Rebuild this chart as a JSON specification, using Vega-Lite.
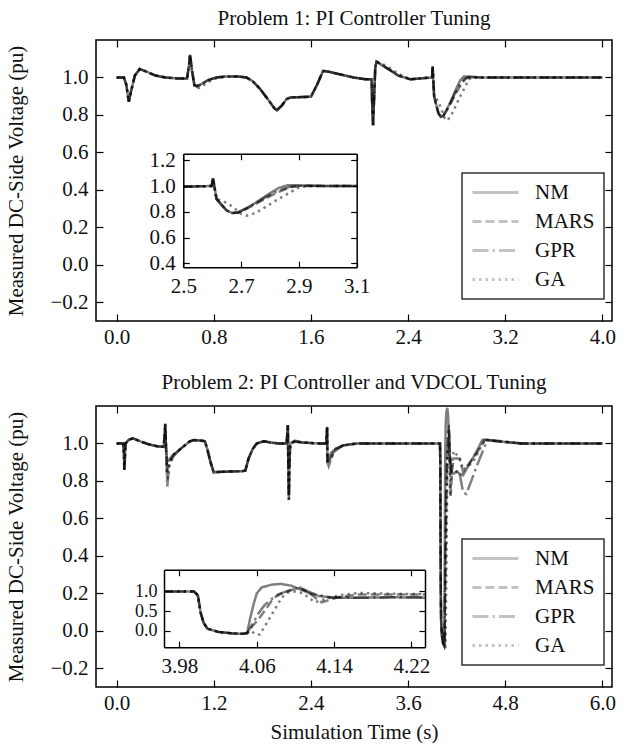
{
"$schema":"https://vega.github.io/schema/vega-lite/v6.json",
"background":"white",
"padding":{"left":5,"top":7,"right":0,"bottom":0},
"config":{
"font":"Liberation Serif",
"view":{"stroke":"black","strokeWidth":1.5},
"axis":{"labelFont":"Liberation Serif","labelFontSize":21,"labelColor":"#111","tickColor":"black","tickSize":-7,"tickWidth":1.2,"domain":false,"grid":false,"titleFont":"Liberation Serif","titleFontSize":21,"titleFontWeight":"normal","titleColor":"#111","labelPadding":12,"labelFlush":false,"labelOverlap":false},
"title":{"font":"Liberation Serif","fontSize":21,"fontWeight":"normal","color":"#111","offset":10},
"legend":{"strokeWidth":1.5}
},
"datasets":{
"p1":[
{"s":"NM","t":0,"v":1.0},{"s":"NM","t":0.06,"v":1.0},{"s":"NM","t":0.08,"v":0.96},{"s":"NM","t":0.1,"v":0.87},{"s":"NM","t":0.12,"v":0.93},{"s":"NM","t":0.15,"v":1.01},{"s":"NM","t":0.19,"v":1.045},{"s":"NM","t":0.25,"v":1.03},{"s":"NM","t":0.32,"v":1.01},{"s":"NM","t":0.4,"v":1.0},{"s":"NM","t":0.5,"v":0.995},{"s":"NM","t":0.58,"v":0.995},{"s":"NM","t":0.595,"v":1.06},{"s":"NM","t":0.605,"v":1.12},{"s":"NM","t":0.62,"v":1.04},{"s":"NM","t":0.64,"v":0.96},{"s":"NM","t":0.66,"v":0.955},{"s":"NM","t":0.7,"v":0.965},{"s":"NM","t":0.75,"v":0.985},{"s":"NM","t":0.82,"v":1.0},{"s":"NM","t":0.9,"v":1.005},{"s":"NM","t":1.0,"v":1.005},{"s":"NM","t":1.07,"v":1.0},{"s":"NM","t":1.12,"v":0.98},{"s":"NM","t":1.18,"v":0.94},{"s":"NM","t":1.25,"v":0.88},{"s":"NM","t":1.3,"v":0.835},{"s":"NM","t":1.32,"v":0.825},{"s":"NM","t":1.36,"v":0.85},{"s":"NM","t":1.4,"v":0.885},{"s":"NM","t":1.43,"v":0.893},{"s":"NM","t":1.5,"v":0.895},{"s":"NM","t":1.6,"v":0.897},{"s":"NM","t":1.65,"v":0.96},{"s":"NM","t":1.7,"v":1.035},{"s":"NM","t":1.75,"v":1.03},{"s":"NM","t":1.85,"v":1.015},{"s":"NM","t":1.95,"v":1.0},{"s":"NM","t":2.05,"v":0.99},{"s":"NM","t":2.1,"v":0.99},{"s":"NM","t":2.105,"v":0.85},{"s":"NM","t":2.112,"v":0.745},{"s":"NM","t":2.12,"v":0.88},{"s":"NM","t":2.13,"v":1.05},{"s":"NM","t":2.14,"v":1.085},{"s":"NM","t":2.2,"v":1.06},{"s":"NM","t":2.25,"v":1.04},{"s":"NM","t":2.32,"v":1.01},{"s":"NM","t":2.42,"v":0.99},{"s":"NM","t":2.5,"v":0.995},{"s":"NM","t":2.598,"v":1.0},{"s":"NM","t":2.603,"v":1.06},{"s":"NM","t":2.608,"v":0.99},{"s":"NM","t":2.615,"v":0.9},{"s":"NM","t":2.63,"v":0.86},{"s":"NM","t":2.65,"v":0.81},{"s":"NM","t":2.67,"v":0.79},{"s":"NM","t":2.69,"v":0.795},{"s":"NM","t":2.72,"v":0.83},{"s":"NM","t":2.75,"v":0.87},{"s":"NM","t":2.79,"v":0.93},{"s":"NM","t":2.83,"v":0.985},{"s":"NM","t":2.86,"v":1.005},{"s":"NM","t":2.9,"v":1.005},{"s":"NM","t":3.0,"v":1.0},{"s":"NM","t":3.1,"v":1.0},{"s":"NM","t":3.5,"v":1.0},{"s":"NM","t":4.0,"v":1.0},
{"s":"MARS","t":0,"v":1.0},{"s":"MARS","t":0.06,"v":1.0},{"s":"MARS","t":0.08,"v":0.96},{"s":"MARS","t":0.1,"v":0.87},{"s":"MARS","t":0.12,"v":0.93},{"s":"MARS","t":0.15,"v":1.01},{"s":"MARS","t":0.19,"v":1.045},{"s":"MARS","t":0.25,"v":1.03},{"s":"MARS","t":0.32,"v":1.01},{"s":"MARS","t":0.4,"v":1.0},{"s":"MARS","t":0.5,"v":0.995},{"s":"MARS","t":0.58,"v":0.995},{"s":"MARS","t":0.595,"v":1.06},{"s":"MARS","t":0.605,"v":1.12},{"s":"MARS","t":0.62,"v":1.04},{"s":"MARS","t":0.64,"v":0.96},{"s":"MARS","t":0.66,"v":0.95},{"s":"MARS","t":0.7,"v":0.965},{"s":"MARS","t":0.75,"v":0.985},{"s":"MARS","t":0.82,"v":1.0},{"s":"MARS","t":0.9,"v":1.005},{"s":"MARS","t":1.0,"v":1.005},{"s":"MARS","t":1.07,"v":1.0},{"s":"MARS","t":1.12,"v":0.98},{"s":"MARS","t":1.18,"v":0.94},{"s":"MARS","t":1.25,"v":0.88},{"s":"MARS","t":1.3,"v":0.835},{"s":"MARS","t":1.32,"v":0.825},{"s":"MARS","t":1.36,"v":0.85},{"s":"MARS","t":1.4,"v":0.885},{"s":"MARS","t":1.43,"v":0.893},{"s":"MARS","t":1.5,"v":0.895},{"s":"MARS","t":1.6,"v":0.897},{"s":"MARS","t":1.65,"v":0.96},{"s":"MARS","t":1.7,"v":1.035},{"s":"MARS","t":1.75,"v":1.03},{"s":"MARS","t":1.85,"v":1.015},{"s":"MARS","t":1.95,"v":1.0},{"s":"MARS","t":2.05,"v":0.99},{"s":"MARS","t":2.1,"v":0.99},{"s":"MARS","t":2.105,"v":0.85},{"s":"MARS","t":2.112,"v":0.745},{"s":"MARS","t":2.12,"v":0.88},{"s":"MARS","t":2.13,"v":1.05},{"s":"MARS","t":2.14,"v":1.085},{"s":"MARS","t":2.2,"v":1.06},{"s":"MARS","t":2.25,"v":1.04},{"s":"MARS","t":2.32,"v":1.01},{"s":"MARS","t":2.42,"v":0.99},{"s":"MARS","t":2.5,"v":0.995},{"s":"MARS","t":2.598,"v":1.0},{"s":"MARS","t":2.603,"v":1.06},{"s":"MARS","t":2.608,"v":0.99},{"s":"MARS","t":2.615,"v":0.9},{"s":"MARS","t":2.63,"v":0.86},{"s":"MARS","t":2.65,"v":0.81},{"s":"MARS","t":2.67,"v":0.79},{"s":"MARS","t":2.69,"v":0.795},{"s":"MARS","t":2.72,"v":0.825},{"s":"MARS","t":2.75,"v":0.86},{"s":"MARS","t":2.79,"v":0.91},{"s":"MARS","t":2.83,"v":0.955},{"s":"MARS","t":2.87,"v":0.99},{"s":"MARS","t":2.9,"v":1.0},{"s":"MARS","t":3.0,"v":1.0},{"s":"MARS","t":3.1,"v":1.0},{"s":"MARS","t":3.5,"v":1.0},{"s":"MARS","t":4.0,"v":1.0},
{"s":"GPR","t":0,"v":1.0},{"s":"GPR","t":0.06,"v":1.0},{"s":"GPR","t":0.08,"v":0.96},{"s":"GPR","t":0.1,"v":0.87},{"s":"GPR","t":0.12,"v":0.93},{"s":"GPR","t":0.15,"v":1.01},{"s":"GPR","t":0.19,"v":1.045},{"s":"GPR","t":0.25,"v":1.03},{"s":"GPR","t":0.32,"v":1.01},{"s":"GPR","t":0.4,"v":1.0},{"s":"GPR","t":0.5,"v":0.995},{"s":"GPR","t":0.58,"v":0.995},{"s":"GPR","t":0.595,"v":1.06},{"s":"GPR","t":0.605,"v":1.12},{"s":"GPR","t":0.62,"v":1.04},{"s":"GPR","t":0.64,"v":0.96},{"s":"GPR","t":0.66,"v":0.955},{"s":"GPR","t":0.7,"v":0.965},{"s":"GPR","t":0.75,"v":0.985},{"s":"GPR","t":0.82,"v":1.0},{"s":"GPR","t":0.9,"v":1.005},{"s":"GPR","t":1.0,"v":1.005},{"s":"GPR","t":1.07,"v":1.0},{"s":"GPR","t":1.12,"v":0.98},{"s":"GPR","t":1.18,"v":0.94},{"s":"GPR","t":1.25,"v":0.88},{"s":"GPR","t":1.3,"v":0.835},{"s":"GPR","t":1.32,"v":0.825},{"s":"GPR","t":1.36,"v":0.85},{"s":"GPR","t":1.4,"v":0.885},{"s":"GPR","t":1.43,"v":0.893},{"s":"GPR","t":1.5,"v":0.895},{"s":"GPR","t":1.6,"v":0.897},{"s":"GPR","t":1.65,"v":0.96},{"s":"GPR","t":1.7,"v":1.035},{"s":"GPR","t":1.75,"v":1.03},{"s":"GPR","t":1.85,"v":1.015},{"s":"GPR","t":1.95,"v":1.0},{"s":"GPR","t":2.05,"v":0.99},{"s":"GPR","t":2.1,"v":0.99},{"s":"GPR","t":2.105,"v":0.85},{"s":"GPR","t":2.112,"v":0.745},{"s":"GPR","t":2.12,"v":0.88},{"s":"GPR","t":2.13,"v":1.05},{"s":"GPR","t":2.14,"v":1.085},{"s":"GPR","t":2.2,"v":1.06},{"s":"GPR","t":2.25,"v":1.04},{"s":"GPR","t":2.32,"v":1.01},{"s":"GPR","t":2.42,"v":0.99},{"s":"GPR","t":2.5,"v":0.995},{"s":"GPR","t":2.598,"v":1.0},{"s":"GPR","t":2.603,"v":1.06},{"s":"GPR","t":2.608,"v":0.99},{"s":"GPR","t":2.615,"v":0.9},{"s":"GPR","t":2.63,"v":0.86},{"s":"GPR","t":2.65,"v":0.81},{"s":"GPR","t":2.67,"v":0.79},{"s":"GPR","t":2.69,"v":0.795},{"s":"GPR","t":2.72,"v":0.828},{"s":"GPR","t":2.75,"v":0.865},{"s":"GPR","t":2.79,"v":0.92},{"s":"GPR","t":2.83,"v":0.965},{"s":"GPR","t":2.87,"v":0.995},{"s":"GPR","t":2.9,"v":1.003},{"s":"GPR","t":3.0,"v":1.0},{"s":"GPR","t":3.1,"v":1.0},{"s":"GPR","t":3.5,"v":1.0},{"s":"GPR","t":4.0,"v":1.0},
{"s":"GA","t":0,"v":1.0},{"s":"GA","t":0.06,"v":1.0},{"s":"GA","t":0.08,"v":0.96},{"s":"GA","t":0.1,"v":0.87},{"s":"GA","t":0.12,"v":0.93},{"s":"GA","t":0.15,"v":1.01},{"s":"GA","t":0.19,"v":1.045},{"s":"GA","t":0.25,"v":1.03},{"s":"GA","t":0.32,"v":1.01},{"s":"GA","t":0.4,"v":1.0},{"s":"GA","t":0.5,"v":0.995},{"s":"GA","t":0.58,"v":0.995},{"s":"GA","t":0.595,"v":1.06},{"s":"GA","t":0.605,"v":1.12},{"s":"GA","t":0.62,"v":1.04},{"s":"GA","t":0.64,"v":0.955},{"s":"GA","t":0.66,"v":0.94},{"s":"GA","t":0.7,"v":0.95},{"s":"GA","t":0.75,"v":0.975},{"s":"GA","t":0.82,"v":0.995},{"s":"GA","t":0.9,"v":1.005},{"s":"GA","t":1.0,"v":1.005},{"s":"GA","t":1.07,"v":1.0},{"s":"GA","t":1.12,"v":0.98},{"s":"GA","t":1.18,"v":0.94},{"s":"GA","t":1.25,"v":0.88},{"s":"GA","t":1.3,"v":0.835},{"s":"GA","t":1.32,"v":0.825},{"s":"GA","t":1.36,"v":0.85},{"s":"GA","t":1.4,"v":0.885},{"s":"GA","t":1.43,"v":0.893},{"s":"GA","t":1.5,"v":0.895},{"s":"GA","t":1.6,"v":0.897},{"s":"GA","t":1.65,"v":0.96},{"s":"GA","t":1.7,"v":1.035},{"s":"GA","t":1.75,"v":1.03},{"s":"GA","t":1.85,"v":1.015},{"s":"GA","t":1.95,"v":1.0},{"s":"GA","t":2.05,"v":0.99},{"s":"GA","t":2.1,"v":0.99},{"s":"GA","t":2.105,"v":0.85},{"s":"GA","t":2.112,"v":0.745},{"s":"GA","t":2.12,"v":0.88},{"s":"GA","t":2.13,"v":1.05},{"s":"GA","t":2.14,"v":1.085},{"s":"GA","t":2.2,"v":1.068},{"s":"GA","t":2.25,"v":1.05},{"s":"GA","t":2.32,"v":1.02},{"s":"GA","t":2.42,"v":0.99},{"s":"GA","t":2.5,"v":0.995},{"s":"GA","t":2.598,"v":1.0},{"s":"GA","t":2.603,"v":1.06},{"s":"GA","t":2.608,"v":0.99},{"s":"GA","t":2.615,"v":0.9},{"s":"GA","t":2.64,"v":0.88},{"s":"GA","t":2.67,"v":0.84},{"s":"GA","t":2.7,"v":0.785},{"s":"GA","t":2.72,"v":0.77},{"s":"GA","t":2.75,"v":0.79},{"s":"GA","t":2.79,"v":0.845},{"s":"GA","t":2.83,"v":0.9},{"s":"GA","t":2.87,"v":0.95},{"s":"GA","t":2.9,"v":0.99},{"s":"GA","t":2.93,"v":1.0},{"s":"GA","t":3.0,"v":1.0},{"s":"GA","t":3.1,"v":1.0},{"s":"GA","t":3.5,"v":1.0},{"s":"GA","t":4.0,"v":1.0}
],
"p2":[
{"s":"NM","t":0,"v":1.0},{"s":"NM","t":0.08,"v":1.0},{"s":"NM","t":0.09,"v":0.95},{"s":"NM","t":0.095,"v":0.86},{"s":"NM","t":0.1,"v":0.9},{"s":"NM","t":0.11,"v":1.0},{"s":"NM","t":0.15,"v":1.02},{"s":"NM","t":0.2,"v":1.027},{"s":"NM","t":0.3,"v":1.01},{"s":"NM","t":0.4,"v":0.995},{"s":"NM","t":0.5,"v":0.985},{"s":"NM","t":0.58,"v":0.982},{"s":"NM","t":0.595,"v":1.05},{"s":"NM","t":0.6,"v":1.105},{"s":"NM","t":0.61,"v":0.98},{"s":"NM","t":0.625,"v":0.9},{"s":"NM","t":0.65,"v":0.915},{"s":"NM","t":0.7,"v":0.94},{"s":"NM","t":0.8,"v":0.975},{"s":"NM","t":0.9,"v":1.01},{"s":"NM","t":0.95,"v":1.018},{"s":"NM","t":1.05,"v":1.015},{"s":"NM","t":1.09,"v":1.012},{"s":"NM","t":1.12,"v":0.97},{"s":"NM","t":1.16,"v":0.9},{"s":"NM","t":1.2,"v":0.845},{"s":"NM","t":1.25,"v":0.848},{"s":"NM","t":1.4,"v":0.85},{"s":"NM","t":1.55,"v":0.852},{"s":"NM","t":1.59,"v":0.855},{"s":"NM","t":1.63,"v":0.92},{"s":"NM","t":1.68,"v":0.97},{"s":"NM","t":1.73,"v":1.0},{"s":"NM","t":1.82,"v":1.012},{"s":"NM","t":1.9,"v":1.005},{"s":"NM","t":2.0,"v":1.0},{"s":"NM","t":2.1,"v":1.0},{"s":"NM","t":2.115,"v":1.098},{"s":"NM","t":2.122,"v":0.85},{"s":"NM","t":2.128,"v":0.7},{"s":"NM","t":2.135,"v":0.9},{"s":"NM","t":2.145,"v":1.0},{"s":"NM","t":2.2,"v":1.01},{"s":"NM","t":2.3,"v":1.005},{"s":"NM","t":2.5,"v":1.0},{"s":"NM","t":2.59,"v":1.0},{"s":"NM","t":2.6,"v":1.089},{"s":"NM","t":2.605,"v":0.9},{"s":"NM","t":2.62,"v":0.92},{"s":"NM","t":2.65,"v":0.95},{"s":"NM","t":2.7,"v":0.97},{"s":"NM","t":2.8,"v":0.99},{"s":"NM","t":2.97,"v":1.0},{"s":"NM","t":3.5,"v":1.0},{"s":"NM","t":3.964,"v":1.0},{"s":"NM","t":3.995,"v":1.0},{"s":"NM","t":3.999,"v":0.9},{"s":"NM","t":4.002,"v":0.45},{"s":"NM","t":4.005,"v":0.2},{"s":"NM","t":4.009,"v":0.05},{"s":"NM","t":4.02,"v":-0.03},{"s":"NM","t":4.035,"v":-0.07},{"s":"NM","t":4.046,"v":-0.08},{"s":"NM","t":4.05,"v":-0.06},{"s":"NM","t":4.053,"v":0.3},{"s":"NM","t":4.057,"v":0.7},{"s":"NM","t":4.06,"v":0.95},{"s":"NM","t":4.065,"v":1.1},{"s":"NM","t":4.075,"v":1.17},{"s":"NM","t":4.085,"v":1.19},{"s":"NM","t":4.095,"v":1.15},{"s":"NM","t":4.105,"v":1.05},{"s":"NM","t":4.115,"v":0.95},{"s":"NM","t":4.125,"v":0.88},{"s":"NM","t":4.14,"v":0.84},{"s":"NM","t":4.17,"v":0.84},{"s":"NM","t":4.2,"v":0.85},{"s":"NM","t":4.234,"v":0.84},{"s":"NM","t":4.28,"v":0.83},{"s":"NM","t":4.45,"v":0.96},{"s":"NM","t":4.52,"v":1.02},{"s":"NM","t":4.7,"v":1.012},{"s":"NM","t":5.0,"v":1.0},{"s":"NM","t":6.0,"v":1.0},
{"s":"MARS","t":0,"v":1.0},{"s":"MARS","t":0.08,"v":1.0},{"s":"MARS","t":0.09,"v":0.95},{"s":"MARS","t":0.095,"v":0.86},{"s":"MARS","t":0.1,"v":0.9},{"s":"MARS","t":0.11,"v":1.0},{"s":"MARS","t":0.15,"v":1.02},{"s":"MARS","t":0.2,"v":1.027},{"s":"MARS","t":0.3,"v":1.01},{"s":"MARS","t":0.4,"v":0.995},{"s":"MARS","t":0.5,"v":0.985},{"s":"MARS","t":0.58,"v":0.982},{"s":"MARS","t":0.595,"v":1.05},{"s":"MARS","t":0.6,"v":1.105},{"s":"MARS","t":0.61,"v":0.98},{"s":"MARS","t":0.625,"v":0.85},{"s":"MARS","t":0.65,"v":0.9},{"s":"MARS","t":0.7,"v":0.94},{"s":"MARS","t":0.8,"v":0.975},{"s":"MARS","t":0.9,"v":1.01},{"s":"MARS","t":0.95,"v":1.018},{"s":"MARS","t":1.05,"v":1.015},{"s":"MARS","t":1.09,"v":1.012},{"s":"MARS","t":1.12,"v":0.97},{"s":"MARS","t":1.16,"v":0.9},{"s":"MARS","t":1.2,"v":0.845},{"s":"MARS","t":1.25,"v":0.848},{"s":"MARS","t":1.4,"v":0.85},{"s":"MARS","t":1.55,"v":0.852},{"s":"MARS","t":1.59,"v":0.855},{"s":"MARS","t":1.63,"v":0.92},{"s":"MARS","t":1.68,"v":0.97},{"s":"MARS","t":1.73,"v":1.0},{"s":"MARS","t":1.82,"v":1.012},{"s":"MARS","t":1.9,"v":1.005},{"s":"MARS","t":2.0,"v":1.0},{"s":"MARS","t":2.1,"v":1.0},{"s":"MARS","t":2.115,"v":1.098},{"s":"MARS","t":2.122,"v":0.85},{"s":"MARS","t":2.128,"v":0.72},{"s":"MARS","t":2.135,"v":0.9},{"s":"MARS","t":2.145,"v":1.0},{"s":"MARS","t":2.2,"v":1.015},{"s":"MARS","t":2.3,"v":1.005},{"s":"MARS","t":2.5,"v":1.0},{"s":"MARS","t":2.59,"v":1.0},{"s":"MARS","t":2.6,"v":1.089},{"s":"MARS","t":2.605,"v":0.9},{"s":"MARS","t":2.62,"v":0.9},{"s":"MARS","t":2.65,"v":0.93},{"s":"MARS","t":2.7,"v":0.97},{"s":"MARS","t":2.8,"v":0.99},{"s":"MARS","t":2.97,"v":1.0},{"s":"MARS","t":3.5,"v":1.0},{"s":"MARS","t":3.964,"v":1.0},{"s":"MARS","t":3.995,"v":1.0},{"s":"MARS","t":3.999,"v":0.9},{"s":"MARS","t":4.002,"v":0.45},{"s":"MARS","t":4.005,"v":0.2},{"s":"MARS","t":4.009,"v":0.05},{"s":"MARS","t":4.02,"v":-0.03},{"s":"MARS","t":4.035,"v":-0.07},{"s":"MARS","t":4.046,"v":-0.08},{"s":"MARS","t":4.05,"v":-0.06},{"s":"MARS","t":4.055,"v":0.1},{"s":"MARS","t":4.062,"v":0.3},{"s":"MARS","t":4.068,"v":0.5},{"s":"MARS","t":4.075,"v":0.75},{"s":"MARS","t":4.082,"v":0.92},{"s":"MARS","t":4.09,"v":0.98},{"s":"MARS","t":4.098,"v":1.05},{"s":"MARS","t":4.105,"v":1.1},{"s":"MARS","t":4.112,"v":1.0},{"s":"MARS","t":4.12,"v":0.85},{"s":"MARS","t":4.127,"v":0.72},{"s":"MARS","t":4.135,"v":0.78},{"s":"MARS","t":4.145,"v":0.86},{"s":"MARS","t":4.165,"v":0.92},{"s":"MARS","t":4.2,"v":0.92},{"s":"MARS","t":4.234,"v":0.92},{"s":"MARS","t":4.28,"v":0.85},{"s":"MARS","t":4.45,"v":0.95},{"s":"MARS","t":4.55,"v":1.02},{"s":"MARS","t":4.7,"v":1.012},{"s":"MARS","t":5.0,"v":1.0},{"s":"MARS","t":6.0,"v":1.0},
{"s":"GPR","t":0,"v":1.0},{"s":"GPR","t":0.08,"v":1.0},{"s":"GPR","t":0.09,"v":0.95},{"s":"GPR","t":0.095,"v":0.86},{"s":"GPR","t":0.1,"v":0.9},{"s":"GPR","t":0.11,"v":1.0},{"s":"GPR","t":0.15,"v":1.02},{"s":"GPR","t":0.2,"v":1.027},{"s":"GPR","t":0.3,"v":1.01},{"s":"GPR","t":0.4,"v":0.995},{"s":"GPR","t":0.5,"v":0.985},{"s":"GPR","t":0.58,"v":0.982},{"s":"GPR","t":0.595,"v":1.05},{"s":"GPR","t":0.6,"v":1.105},{"s":"GPR","t":0.61,"v":0.98},{"s":"GPR","t":0.625,"v":0.77},{"s":"GPR","t":0.65,"v":0.88},{"s":"GPR","t":0.7,"v":0.93},{"s":"GPR","t":0.8,"v":0.975},{"s":"GPR","t":0.9,"v":1.01},{"s":"GPR","t":0.95,"v":1.018},{"s":"GPR","t":1.05,"v":1.015},{"s":"GPR","t":1.09,"v":1.012},{"s":"GPR","t":1.12,"v":0.97},{"s":"GPR","t":1.16,"v":0.9},{"s":"GPR","t":1.2,"v":0.845},{"s":"GPR","t":1.25,"v":0.848},{"s":"GPR","t":1.4,"v":0.85},{"s":"GPR","t":1.55,"v":0.852},{"s":"GPR","t":1.59,"v":0.855},{"s":"GPR","t":1.63,"v":0.92},{"s":"GPR","t":1.68,"v":0.97},{"s":"GPR","t":1.73,"v":1.0},{"s":"GPR","t":1.82,"v":1.012},{"s":"GPR","t":1.9,"v":1.005},{"s":"GPR","t":2.0,"v":1.0},{"s":"GPR","t":2.1,"v":1.0},{"s":"GPR","t":2.115,"v":1.098},{"s":"GPR","t":2.122,"v":0.85},{"s":"GPR","t":2.128,"v":0.7},{"s":"GPR","t":2.135,"v":0.9},{"s":"GPR","t":2.145,"v":1.0},{"s":"GPR","t":2.2,"v":1.01},{"s":"GPR","t":2.3,"v":1.005},{"s":"GPR","t":2.5,"v":1.0},{"s":"GPR","t":2.59,"v":1.0},{"s":"GPR","t":2.6,"v":1.089},{"s":"GPR","t":2.605,"v":0.9},{"s":"GPR","t":2.62,"v":0.88},{"s":"GPR","t":2.65,"v":0.92},{"s":"GPR","t":2.7,"v":0.96},{"s":"GPR","t":2.8,"v":0.99},{"s":"GPR","t":2.97,"v":1.0},{"s":"GPR","t":3.5,"v":1.0},{"s":"GPR","t":3.964,"v":1.0},{"s":"GPR","t":3.995,"v":1.0},{"s":"GPR","t":3.999,"v":0.9},{"s":"GPR","t":4.002,"v":0.45},{"s":"GPR","t":4.005,"v":0.2},{"s":"GPR","t":4.009,"v":0.05},{"s":"GPR","t":4.02,"v":-0.03},{"s":"GPR","t":4.035,"v":-0.07},{"s":"GPR","t":4.046,"v":-0.08},{"s":"GPR","t":4.05,"v":-0.06},{"s":"GPR","t":4.055,"v":0.15},{"s":"GPR","t":4.062,"v":0.45},{"s":"GPR","t":4.068,"v":0.65},{"s":"GPR","t":4.075,"v":0.8},{"s":"GPR","t":4.085,"v":0.95},{"s":"GPR","t":4.095,"v":1.04},{"s":"GPR","t":4.102,"v":1.08},{"s":"GPR","t":4.11,"v":1.03},{"s":"GPR","t":4.12,"v":0.93},{"s":"GPR","t":4.135,"v":0.85},{"s":"GPR","t":4.16,"v":0.84},{"s":"GPR","t":4.2,"v":0.85},{"s":"GPR","t":4.234,"v":0.85},{"s":"GPR","t":4.28,"v":0.74},{"s":"GPR","t":4.32,"v":0.73},{"s":"GPR","t":4.45,"v":0.88},{"s":"GPR","t":4.58,"v":1.02},{"s":"GPR","t":4.7,"v":1.015},{"s":"GPR","t":5.0,"v":1.0},{"s":"GPR","t":6.0,"v":1.0},
{"s":"GA","t":0,"v":1.0},{"s":"GA","t":0.08,"v":1.0},{"s":"GA","t":0.09,"v":0.95},{"s":"GA","t":0.095,"v":0.86},{"s":"GA","t":0.1,"v":0.9},{"s":"GA","t":0.11,"v":1.0},{"s":"GA","t":0.15,"v":1.02},{"s":"GA","t":0.2,"v":1.027},{"s":"GA","t":0.3,"v":1.01},{"s":"GA","t":0.4,"v":0.995},{"s":"GA","t":0.5,"v":0.985},{"s":"GA","t":0.58,"v":0.982},{"s":"GA","t":0.595,"v":1.05},{"s":"GA","t":0.6,"v":1.105},{"s":"GA","t":0.61,"v":0.98},{"s":"GA","t":0.625,"v":0.8},{"s":"GA","t":0.65,"v":0.89},{"s":"GA","t":0.7,"v":0.94},{"s":"GA","t":0.8,"v":0.975},{"s":"GA","t":0.9,"v":1.01},{"s":"GA","t":0.95,"v":1.018},{"s":"GA","t":1.05,"v":1.015},{"s":"GA","t":1.09,"v":1.012},{"s":"GA","t":1.12,"v":0.97},{"s":"GA","t":1.16,"v":0.9},{"s":"GA","t":1.2,"v":0.845},{"s":"GA","t":1.25,"v":0.848},{"s":"GA","t":1.4,"v":0.85},{"s":"GA","t":1.55,"v":0.852},{"s":"GA","t":1.59,"v":0.855},{"s":"GA","t":1.63,"v":0.92},{"s":"GA","t":1.68,"v":0.97},{"s":"GA","t":1.73,"v":1.0},{"s":"GA","t":1.82,"v":1.012},{"s":"GA","t":1.9,"v":1.005},{"s":"GA","t":2.0,"v":1.0},{"s":"GA","t":2.1,"v":1.0},{"s":"GA","t":2.115,"v":1.098},{"s":"GA","t":2.122,"v":0.85},{"s":"GA","t":2.128,"v":0.7},{"s":"GA","t":2.135,"v":0.9},{"s":"GA","t":2.145,"v":1.0},{"s":"GA","t":2.2,"v":1.01},{"s":"GA","t":2.3,"v":1.005},{"s":"GA","t":2.5,"v":1.0},{"s":"GA","t":2.59,"v":1.0},{"s":"GA","t":2.6,"v":1.089},{"s":"GA","t":2.605,"v":0.9},{"s":"GA","t":2.62,"v":0.89},{"s":"GA","t":2.65,"v":0.92},{"s":"GA","t":2.7,"v":0.97},{"s":"GA","t":2.8,"v":0.99},{"s":"GA","t":2.97,"v":1.0},{"s":"GA","t":3.5,"v":1.0},{"s":"GA","t":3.964,"v":1.0},{"s":"GA","t":3.995,"v":1.0},{"s":"GA","t":3.999,"v":0.9},{"s":"GA","t":4.002,"v":0.45},{"s":"GA","t":4.005,"v":0.2},{"s":"GA","t":4.009,"v":0.05},{"s":"GA","t":4.02,"v":-0.03},{"s":"GA","t":4.035,"v":-0.07},{"s":"GA","t":4.046,"v":-0.08},{"s":"GA","t":4.05,"v":-0.06},{"s":"GA","t":4.054,"v":0.0},{"s":"GA","t":4.058,"v":-0.08},{"s":"GA","t":4.063,"v":-0.1},{"s":"GA","t":4.068,"v":0.1},{"s":"GA","t":4.074,"v":0.35},{"s":"GA","t":4.08,"v":0.6},{"s":"GA","t":4.086,"v":0.85},{"s":"GA","t":4.092,"v":0.97},{"s":"GA","t":4.1,"v":1.0},{"s":"GA","t":4.108,"v":0.95},{"s":"GA","t":4.115,"v":0.82},{"s":"GA","t":4.12,"v":0.72},{"s":"GA","t":4.13,"v":0.8},{"s":"GA","t":4.145,"v":0.9},{"s":"GA","t":4.165,"v":0.96},{"s":"GA","t":4.2,"v":0.94},{"s":"GA","t":4.234,"v":0.93},{"s":"GA","t":4.28,"v":0.86},{"s":"GA","t":4.4,"v":0.9},{"s":"GA","t":4.55,"v":1.02},{"s":"GA","t":4.7,"v":1.012},{"s":"GA","t":5.0,"v":1.0},{"s":"GA","t":6.0,"v":1.0}
]
},
"spacing":23,
"resolve":{"scale":{"strokeDash":"independent"}},
"vconcat":[
{
"title":{"text":"Problem 1: PI Controller Tuning"},
"width":516,"height":281,
"resolve":{"scale":{"x":"independent","y":"independent","strokeDash":"independent"},"axis":{"x":"independent","y":"independent"}},
"layer":[
{"data":{"name":"p1"},
"mark":{"type":"line","stroke":"black","opacity":0.5,"strokeWidth":2.5},
"encoding":{
"x":{"field":"t","type":"quantitative","scale":{"domain":[-0.17,4.08],"nice":false,"zero":false},"axis":{"orient":"bottom","values":[0,0.8,1.6,2.4,3.2,4.0],"format":".1f","title":null}},
"y":{"field":"v","type":"quantitative","scale":{"domain":[-0.3,1.2],"nice":false,"zero":false},"axis":{"orient":"left","values":[-0.2,0,0.2,0.4,0.6,0.8,1.0],"format":".1f","title":"Measured DC-Side Voltage (pu)","titlePadding":23,"labelPadding":15}},
"strokeDash":{"field":"s","type":"nominal","scale":{"domain":["NM","MARS","GPR","GA"],"range":[[1,0],[9,4],[16,4,2.5,4],[2.5,4]]},
"legend":{"title":null,"orient":"none","legendX":366,"legendY":133,"symbolType":"stroke","symbolSize":2116,"symbolStrokeWidth":3,"symbolStrokeColor":"#888","labelFont":"Liberation Serif","labelFontSize":21,"labelColor":"#111","clipHeight":21,"rowPadding":7,"padding":9,"strokeColor":"#333","labelOffset":15}}
}},
{"data":{"name":"p1"},
"mark":{"type":"line","opacity":0},
"encoding":{
"x":{"field":"t","type":"quantitative","scale":{"domain":[-0.17,4.08],"nice":false,"zero":false},"axis":{"orient":"top","values":[0,0.8,1.6,2.4,3.2,4.0],"labels":false,"title":null}},
"y":{"field":"v","type":"quantitative","scale":{"domain":[-0.3,1.2],"nice":false,"zero":false},"axis":{"orient":"right","values":[-0.2,0,0.2,0.4,0.6,0.8,1.0],"labels":false,"title":null}},
"detail":{"field":"s"}
}},
{"data":{"name":"p1"},
"transform":[{"filter":"datum.t >= 2.5 && datum.t <= 3.1"}],
"mark":{"type":"line","stroke":"black","opacity":0.5,"strokeWidth":2.5},
"encoding":{
"x":{"field":"t","type":"quantitative","scale":{"domain":[2.5,3.1],"range":[87.3,260.7],"nice":false,"zero":false},"axis":{"orient":"bottom","offset":-53.8,"values":[2.5,2.7,2.9,3.1],"format":".1f","title":null,"domain":true,"domainColor":"black","domainWidth":1.5,"tickSize":-6,"labelPadding":14}},
"y":{"field":"v","type":"quantitative","scale":{"domain":[0.37,1.25],"range":[227.2,113.8],"nice":false,"zero":false},"axis":{"orient":"left","offset":-87.3,"values":[0.4,0.6,0.8,1.0,1.2],"format":".1f","title":null,"domain":true,"domainColor":"black","domainWidth":1.5,"tickSize":-6,"labelPadding":14}},
"strokeDash":{"field":"s","type":"nominal","scale":{"domain":["NM","MARS","GPR","GA"],"range":[[1,0],[9,4],[16,4,2.5,4],[2.5,4]]},"legend":null}
}},
{"data":{"name":"p1"},
"transform":[{"filter":"datum.t >= 2.5 && datum.t <= 3.1"}],
"mark":{"type":"line","opacity":0},
"encoding":{
"x":{"field":"t","type":"quantitative","scale":{"domain":[2.5,3.1],"range":[87.3,260.7],"nice":false,"zero":false},"axis":{"orient":"top","offset":-113.8,"values":[2.5,2.7,2.9,3.1],"labels":false,"title":null,"domain":true,"domainColor":"black","domainWidth":1.5,"tickSize":-6}},
"y":{"field":"v","type":"quantitative","scale":{"domain":[0.37,1.25],"range":[227.2,113.8],"nice":false,"zero":false},"axis":{"orient":"right","offset":-255.3,"values":[0.4,0.6,0.8,1.0,1.2],"labels":false,"title":null,"domain":true,"domainColor":"black","domainWidth":1.5,"tickSize":-6}},
"detail":{"field":"s"}
}}
]
},
{
"title":{"text":"Problem 2: PI Controller and VDCOL Tuning"},
"width":516,"height":281,
"resolve":{"scale":{"x":"independent","y":"independent","strokeDash":"independent"},"axis":{"x":"independent","y":"independent"}},
"layer":[
{"data":{"name":"p2"},
"mark":{"type":"line","stroke":"black","opacity":0.5,"strokeWidth":2.5},
"encoding":{
"x":{"field":"t","type":"quantitative","scale":{"domain":[-0.255,6.12],"nice":false,"zero":false},"axis":{"orient":"bottom","values":[0,1.2,2.4,3.6,4.8,6.0],"format":".1f","title":"Simulation Time (s)","titlePadding":8}},
"y":{"field":"v","type":"quantitative","scale":{"domain":[-0.3,1.2],"nice":false,"zero":false},"axis":{"orient":"left","values":[-0.2,0,0.2,0.4,0.6,0.8,1.0],"format":".1f","title":"Measured DC-Side Voltage (pu)","titlePadding":23,"labelPadding":15}},
"strokeDash":{"field":"s","type":"nominal","scale":{"domain":["NM","MARS","GPR","GA"],"range":[[1,0],[9,4],[16,4,2.5,4],[2.5,4]]},
"legend":{"title":null,"orient":"none","legendX":366,"legendY":133,"symbolType":"stroke","symbolSize":2116,"symbolStrokeWidth":3,"symbolStrokeColor":"#888","labelFont":"Liberation Serif","labelFontSize":21,"labelColor":"#111","clipHeight":21,"rowPadding":7,"padding":9,"strokeColor":"#333","labelOffset":15}}
}},
{"data":{"name":"p2"},
"mark":{"type":"line","opacity":0},
"encoding":{
"x":{"field":"t","type":"quantitative","scale":{"domain":[-0.255,6.12],"nice":false,"zero":false},"axis":{"orient":"top","values":[0,1.2,2.4,3.6,4.8,6.0],"labels":false,"title":null}},
"y":{"field":"v","type":"quantitative","scale":{"domain":[-0.3,1.2],"nice":false,"zero":false},"axis":{"orient":"right","values":[-0.2,0,0.2,0.4,0.6,0.8,1.0],"labels":false,"title":null}},
"detail":{"field":"s"}
}},
{"data":{"name":"p2"},
"transform":[{"filter":"datum.t >= 3.964 && datum.t <= 4.234"}],
"mark":{"type":"line","stroke":"black","opacity":0.5,"strokeWidth":2.5},
"encoding":{
"x":{"field":"t","type":"quantitative","scale":{"domain":[3.964,4.234],"range":[68,329],"nice":false,"zero":false},"axis":{"orient":"bottom","offset":-39.8,"values":[3.98,4.06,4.14,4.22],"format":".2f","title":null,"domain":true,"domainColor":"black","domainWidth":1.5,"tickSize":-6,"labelPadding":14}},
"y":{"field":"v","type":"quantitative","scale":{"domain":[-0.42,1.55],"range":[241.2,163.8],"nice":false,"zero":false},"axis":{"orient":"left","offset":-68,"values":[0,0.5,1.0],"format":".1f","title":null,"domain":true,"domainColor":"black","domainWidth":1.5,"tickSize":-6,"labelPadding":13,"labelFontSize":18}},
"strokeDash":{"field":"s","type":"nominal","scale":{"domain":["NM","MARS","GPR","GA"],"range":[[1,0],[9,4],[16,4,2.5,4],[2.5,4]]},"legend":null}
}},
{"data":{"name":"p2"},
"transform":[{"filter":"datum.t >= 3.964 && datum.t <= 4.234"}],
"mark":{"type":"line","opacity":0},
"encoding":{
"x":{"field":"t","type":"quantitative","scale":{"domain":[3.964,4.234],"range":[68,329],"nice":false,"zero":false},"axis":{"orient":"top","offset":-163.8,"values":[3.98,4.06,4.14,4.22],"labels":false,"title":null,"domain":true,"domainColor":"black","domainWidth":1.5,"tickSize":-6}},
"y":{"field":"v","type":"quantitative","scale":{"domain":[-0.42,1.55],"range":[241.2,163.8],"nice":false,"zero":false},"axis":{"orient":"right","offset":-187,"values":[0,0.5,1.0],"labels":false,"title":null,"domain":true,"domainColor":"black","domainWidth":1.5,"tickSize":-6}},
"detail":{"field":"s"}
}}
]
}
]
}
